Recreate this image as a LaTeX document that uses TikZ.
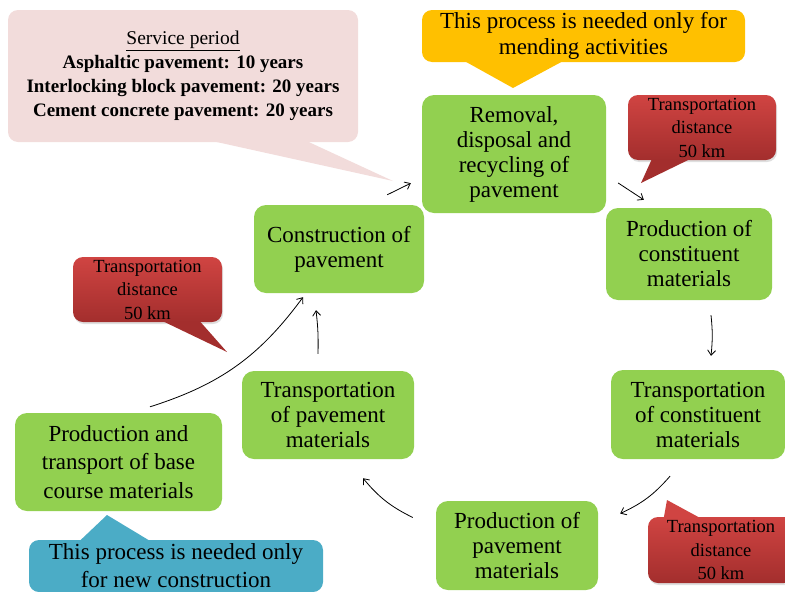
\documentclass[tikz,border=0pt]{standalone}
\usepackage{fontspec}
\setmainfont{Liberation Serif}
\usetikzlibrary{calc,positioning,shadows,arrows.meta}
\definecolor{stagegreen}{RGB}{146,208,80}
\definecolor{notepink}{RGB}{242,220,219}
\definecolor{noteorange}{RGB}{255,192,0}
\definecolor{noteblue}{RGB}{75,172,198}
\definecolor{distred}{RGB}{208,68,66}
\definecolor{distreddark}{RGB}{163,46,45}

\begin{document}
\begin{tikzpicture}[x=1pt,y=-1pt,
    stage/.style={rectangle, rounded corners=12pt, fill=stagegreen, align=center, inner sep=0pt, font=\fontsize{23}{25}\selectfont},
    note/.style={rectangle, rounded corners=10pt, align=center, inner sep=0pt},
    dist/.style={note, top color=distred, bottom color=distreddark, font=\fontsize{18.5}{23.5}\selectfont,
      drop shadow={opacity=0.25, shadow xshift=1pt, shadow yshift=-2pt}},
    flow/.style={-{Straight Barb[length=5pt,width=8pt]}, line width=0.8pt}]
        \clip (0,0) rectangle (785,592);
        % stages of the cycle
        \node[stage, minimum width=184pt, minimum height=118pt] (remove) at (514,154) {Removal,\\disposal and\\recycling of\\pavement};
        \node[stage, minimum width=166pt, minimum height=92pt] (prodcon) at (689,254) {Production of\\constituent\\materials};
        \node[stage, minimum width=174pt, minimum height=89pt] (transcon) at (698,414.5) {Transportation\\of constituent\\materials};
        \node[stage, minimum width=162pt, minimum height=89pt] (prodpav) at (517,545.5) {Production of\\pavement\\materials};
        \node[stage, minimum width=172pt, minimum height=88pt] (transpav) at (328,415) {Transportation\\of pavement\\materials};
        \node[stage, minimum width=170pt, minimum height=88pt] (constr) at (339,249) {Construction of\\pavement};
        \node[stage, minimum width=207pt, minimum height=98pt, font=\fontsize{23}{28.5}\selectfont] (base) at (118.5,462) {Production and\\transport of base\\course materials};

        % notes
        \node[note, fill=notepink, minimum width=350pt, minimum height=132pt, font=\fontsize{19}{24}\selectfont\bfseries] (svc) at (183,76)
          {{\mdseries\fontsize{19.5}{24}\selectfont\underline{Service period}}\\
           Asphaltic pavement: 10 years\\
           Interlocking block pavement: 20 years\\
           Cement concrete pavement: 20 years};
        \fill[notepink] ($(svc.south)+(30,-1)$) -- (393,181) -- ($(svc.south)+(124,-1)$) -- cycle;
        \node[note, fill=noteorange, minimum width=323pt, minimum height=52pt, font=\fontsize{23}{26}\selectfont] (mend) at (583.5,36)
          {This process is needed only for\\mending activities};
        \fill[noteorange] ($(mend.south west)+(43,-1)$) -- (513,88) -- ($(mend.south west)+(141,-1)$) -- cycle;
        \node[note, fill=noteblue, minimum width=294pt, minimum height=52pt, font=\fontsize{23}{28}\selectfont] (newc) at (176,566)
          {This process is needed only\\for new construction};
        \fill[noteblue] ($(newc.north west)+(51,1)$) -- (107,515) -- ($(newc.north west)+(121,1)$) -- cycle;

        % transport distances
        \node[dist, minimum width=148pt, minimum height=65pt] (dist1) at (702,127.5) {Transportation\\distance\\50 km};
        \fill[distreddark] ($(dist1.south west)+(24,-1)$) -- (641,183) -- ($(dist1.south west)+(62,-1)$) -- cycle;
        \node[dist, minimum width=149pt, minimum height=65pt] (dist2) at (147.5,289.5) {Transportation\\distance\\50 km};
        \fill[distreddark] ($(dist2.south west)+(90,-1)$) -- (227,352) -- ($(dist2.south west)+(127,-1)$) -- cycle;
        \node[dist, minimum width=146pt, minimum height=66pt] (dist3) at (721,550) {Transportation\\distance\\50 km};
        \fill[distred] ($(dist3.north west)+(16,1)$) -- (667,500) -- ($(dist3.north west)+(52,1)$) -- cycle;

        % cycle arrows
        \draw[flow] ($(constr.north east)+(-37,-10)$) -- ($(remove.south west)+(-11,-30)$);
        \draw[flow] ($(remove.east)+(12,29)$) -- ($(prodcon.north west)+(38,-8)$);
        \draw[flow] ($(prodcon.south)+(22,15)$) to[bend left=6] ($(transcon.north)+(13,-14)$);
        \draw[flow] ($(transcon.south)+(-28,17)$) to[bend left=12] ($(prodpav.east)+(22,-32)$);
        \draw[flow] ($(prodpav.west)+(-23,-28)$) to[bend left=12] ($(transpav.south)+(35,19)$);
        \draw[flow] ($(transpav.north)+(-10,-17)$) to[bend right=4] ($(constr.south)+(-23,17)$);
        \draw[flow] ($(base.north)+(31.5,-6)$) to[bend right=18] ($(constr.south)+(-36,4)$);
\end{tikzpicture}
\end{document}
